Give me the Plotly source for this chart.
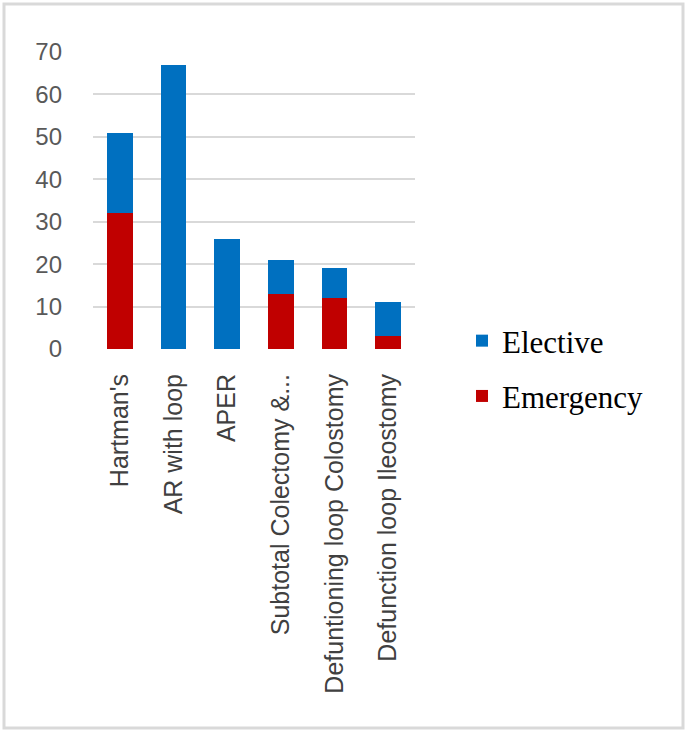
import plotly.graph_objects as go

categories = ["Hartman's", "AR with loop", "APER", "Subtotal Colectomy &...",
              "Defuntioning loop Colostomy", "Defunction loop Ileostomy"]
emergency = [32, 0, 0, 13, 12, 3]
elective = [19, 67, 26, 8, 7, 8]
y_ticks = [0, 10, 20, 30, 40, 50, 60, 70]

BLUE = "#0070C0"
RED = "#C00000"

fig = go.Figure()
fig.add_trace(go.Bar(x=categories, y=emergency, name="Emergency", legendgroup="b",
                     legendrank=2, marker=dict(color=RED, line=dict(width=0))))
fig.add_trace(go.Bar(x=categories, y=elective, name="Elective", legendgroup="a",
                     legendrank=1, marker=dict(color=BLUE, line=dict(width=0))))

L, R = 93, 687 - 415
T, B = 52, 732 - 349
pw = 687 - L - R
ph = 732 - T - B

def px(x):
    return (x - L) / pw

def py(y):
    return (732 - B - y) / ph

fig.update_layout(
    width=687, height=732,
    margin=dict(l=L, r=R, t=T, b=B, autoexpand=False),
    paper_bgcolor="white", plot_bgcolor="white",
    barmode="stack", bargap=0.52,
    showlegend=True,
    legend=dict(x=px(462), y=py(314), xanchor="left", yanchor="top",
                traceorder="grouped", tracegroupgap=12,
                font=dict(family="Liberation Serif", size=31, color="#000000"),
                bgcolor="rgba(0,0,0,0)"),
    xaxis=dict(tickangle=-90, showgrid=False, showline=False, zeroline=False,
               ticks="", ticklabelstandoff=19,
               tickfont=dict(family="Liberation Sans", size=25, color="#404040")),
    yaxis=dict(range=[0, 70], tickvals=y_ticks, showgrid=True, gridcolor="#D9D9D9",
               gridwidth=2, zeroline=False, showline=False, ticks="",
               ticklabelstandoff=30,
               tickfont=dict(family="Liberation Sans", size=24, color="#595959")),
    shapes=[dict(type="rect", xref="paper", yref="paper",
                 x0=px(4), x1=px(683), y0=py(728), y1=py(4),
                 line=dict(color="#D9D9D9", width=3), layer="below")],
)

fig.write_html("out.html", config={"displayModeBar": False},
               post_script="document.body.style.margin='0';document.body.style.overflow='hidden';")
